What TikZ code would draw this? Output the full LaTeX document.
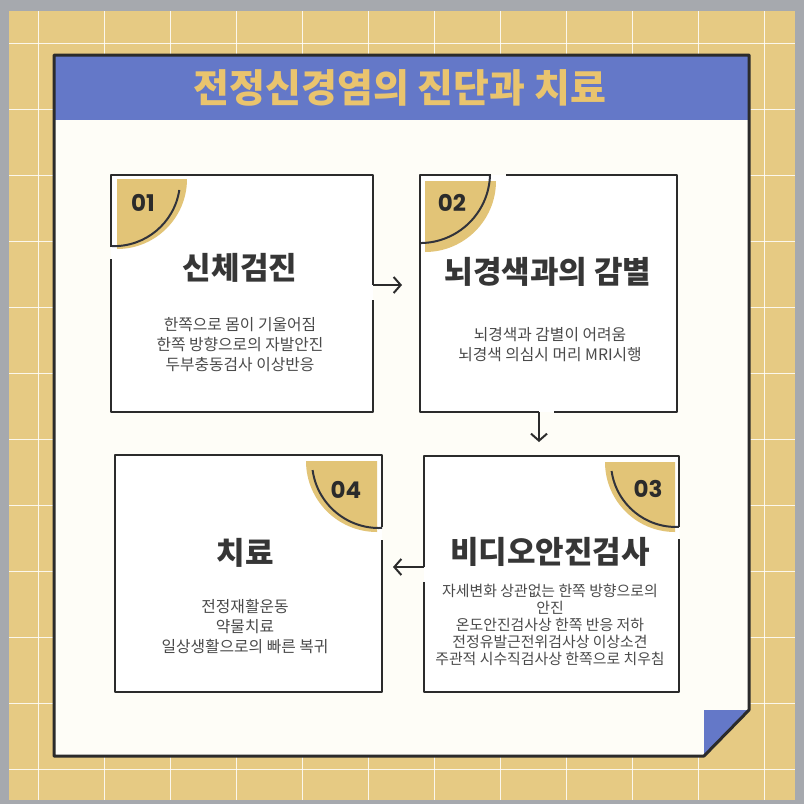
\documentclass[tikz,border=0pt]{standalone}
\usepackage{fontspec}
\newfontfamily\kr{Noto Sans CJK KR}
\newfontfamily\pop{Poppins}
\usetikzlibrary{arrows.meta}
\definecolor{bggray}{HTML}{A6A9AE}
\definecolor{tile}{HTML}{E6CA83}
\definecolor{hdrblue}{HTML}{6478C8}
\definecolor{ttlyellow}{HTML}{E9C46E}
\definecolor{cardfill}{HTML}{FEFDF7}
\definecolor{badge}{HTML}{E2C477}
\definecolor{ink}{HTML}{2B2B2B}
\definecolor{bodygray}{HTML}{4A4A4A}
\begin{document}
\begin{tikzpicture}[x=1pt,y=-1pt,
  gridline/.style={draw=white, opacity=0.85, line width=0.9pt},
  cardline/.style={draw=ink, line width=3pt, line join=round},
  boxline/.style={draw=ink, line width=2pt, line join=round},
  arcline/.style={draw=ink!90!hdrblue, line width=2pt},
  arr/.style={boxline, -{Straight Barb[length=7pt,width=16pt]}},
  boxbg/.style={fill=white, draw=none, inner sep=0pt},
  badgefill/.style={fill=badge},
  titletext/.style={font={\kr\bfseries\fontsize{39}{44}\selectfont}, text=ttlyellow},
  headtext/.style={font={\kr\bfseries\fontsize{31}{36}\selectfont}, text=ink!95!white},
  bodytext/.style={font={\kr\fontsize{15.8}{20}\selectfont}, text=bodygray, align=center},
  bodysmall/.style={font={\kr\fontsize{14.9}{17}\selectfont}, text=bodygray, align=center},
  numtext/.style={font={\pop\bfseries\fontsize{23}{26}\selectfont}, text=ink}
]
\useasboundingbox (0,0) rectangle (804,804);
% background
\fill[bggray] (0,0) rectangle (804,804);
\fill[tile] (9,11) rectangle (795,800);
\foreach \x in {38,104,...,764} \draw[gridline] (\x,11) -- (\x,800);
\foreach \y in {43,109,...,769} \draw[gridline] (9,\y) -- (795,\y);
% card
\fill[cardfill] (54,55) -- (749,55) -- (749,710) -- (704,756) -- (54,756) -- cycle;
\fill[hdrblue] (54,55) rectangle (749,120);
\fill[hdrblue] (704,710) -- (749,710) -- (704,756) -- cycle;
\draw[cardline] (54,55) -- (749,55) -- (749,710) -- (704,756) -- (54,756) -- cycle;
\node[titletext] (title) at (400,88) {전정신경염의 진단과 치료};

% box backgrounds
\node[boxbg, minimum width=262pt, minimum height=237pt] (b1) at (242,293.5) {};
\node[boxbg, minimum width=257pt, minimum height=237pt] (b2) at (548.5,293.5) {};
\node[boxbg, minimum width=255pt, minimum height=236pt] (b3) at (551.5,574) {};
\node[boxbg, minimum width=267pt, minimum height=237pt] (b4) at (248.5,573.5) {};

% badges
\fill[badgefill] (117,179) -- (187,179) arc[start angle=0, end angle=90, radius=70] -- cycle;
\fill[badgefill] (425,181) -- (496,181) arc[start angle=0, end angle=90, radius=71] -- cycle;
\fill[badgefill] (675,462) -- (605,462) arc[start angle=180, end angle=90, radius=70] -- cycle;
\fill[badgefill] (377,461) -- (306,461) arc[start angle=180, end angle=90, radius=71] -- cycle;

% arcs
\draw[arcline] (179.3,190) arc[start angle=8.6, end angle=91.7, radius=66];
\draw[arcline] (490,175) arc[start angle=1.6, end angle=90, radius=70];
\draw[arcline] (611.6,471) arc[start angle=172, end angle=87.4, radius=65];
\draw[arcline] (312.6,470.1) arc[start angle=172.2, end angle=87.4, radius=67];

% connector end points
\coordinate (a1s) at (373,285);
\coordinate (a1e) at (402,285);
\coordinate (a2s) at (539,412);
\coordinate (a2e) at (539,442);
\coordinate (a3s) at (424,567);
\coordinate (a3e) at (393,567);

% box borders
\draw[boxline] (111,247) -- (111,175) -- (373,175) -- (a1s);
\draw[arr] (a1s) -- (a1e);
\draw[boxline] (373,300) -- (373,412) -- (111,412) -- (111,259);

\draw[boxline] (491,175) -- (420,175) -- (420,412) -- (a2s);
\draw[arr] (a2s) -- (a2e);
\draw[boxline] (506,175) -- (677,175) -- (677,412) -- (554,412);

\draw[boxline] (679,527) -- (679,456) -- (424,456) -- (a3s);
\draw[arr] (a3s) -- (a3e);
\draw[boxline] (424,582) -- (424,692) -- (679,692) -- (679,539);

\draw[boxline] (382,527) -- (382,455) -- (115,455) -- (115,692) -- (382,692) -- (382,540);

% numbers
\node[numtext] (n1) at (143,203) {01};
\node[numtext] (n2) at (452,203) {02};
\node[numtext] (n3) at (648,489) {03};
\node[numtext] (n4) at (346,490) {04};

% headings
\node[headtext] (h1) at (240,268) {신체검진};
\node[headtext] (h2) at (548,272) {뇌경색과의 감별};
\node[headtext] (h3) at (550,552) {비디오안진검사};
\node[headtext] (h4) at (245,553) {치료};

% bodies
\node[bodytext] (t1) at (240,345) {한쪽으로 몸이 기울어짐\\한쪽 방향으로의 자발안진\\두부충동검사 이상반응};
\node[bodytext] (t2) at (550,345) {뇌경색과 감별이 어려움\\뇌경색 의심시 머리 MRI시행};
\node[bodysmall] (t3) at (550,625) {자세변화 상관없는 한쪽 방향으로의\\안진\\온도안진검사상 한쪽 반응 저하\\전정유발근전위검사상 이상소견\\주관적 시수직검사상 한쪽으로 치우침};
\node[bodytext] (t4) at (245,627) {전정재활운동\\약물치료\\일상생활으로의 빠른 복귀};
\end{tikzpicture}
\end{document}
